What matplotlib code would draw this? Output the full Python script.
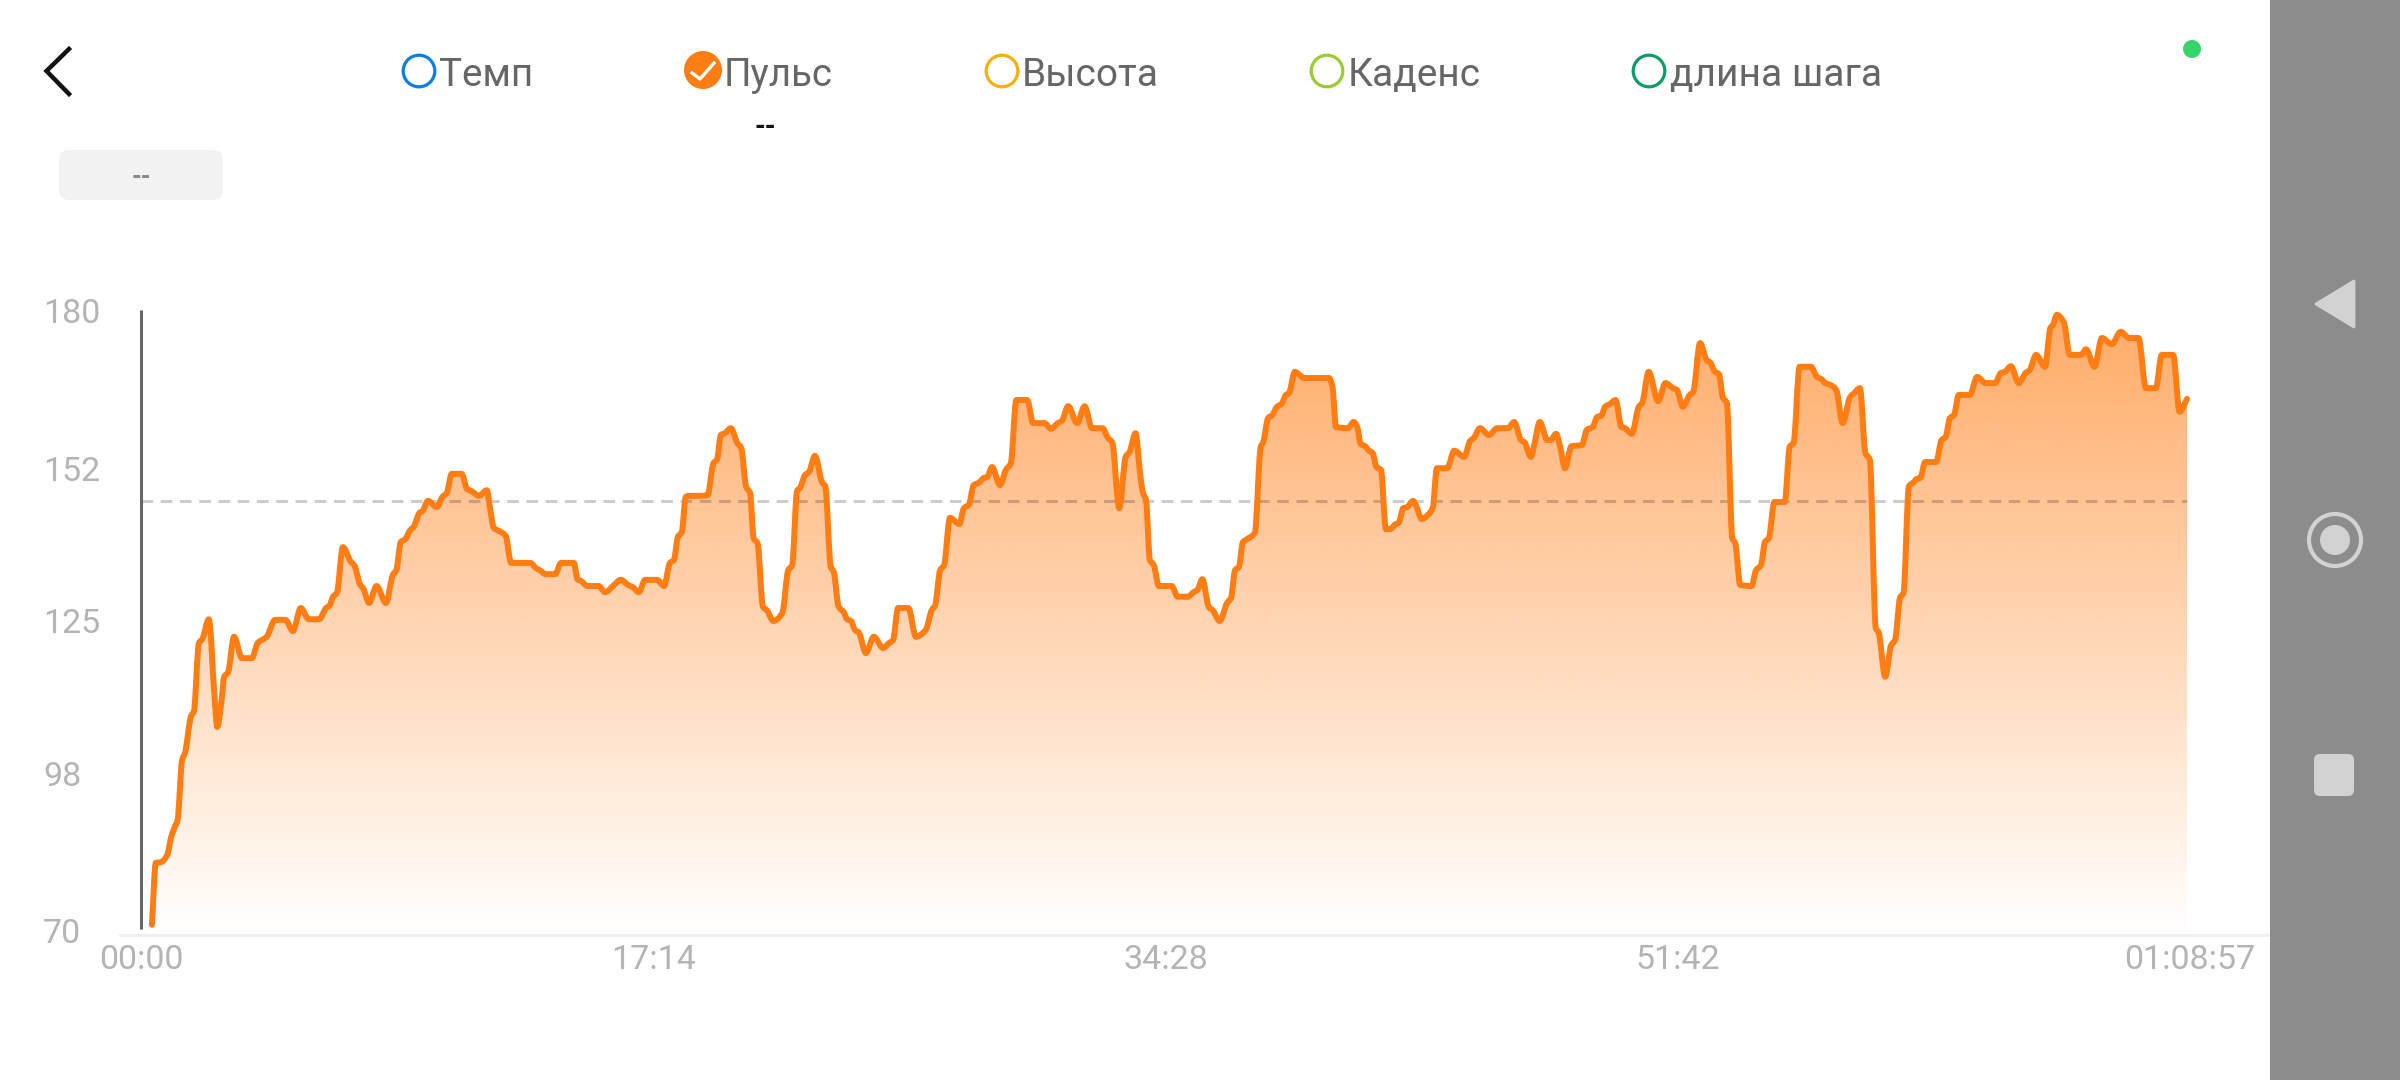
import numpy as np
import matplotlib
matplotlib.use("Agg")
import matplotlib.pyplot as plt
from matplotlib.patches import Circle, FancyBboxPatch, Polygon, Rectangle, PathPatch
from matplotlib.path import Path

plt.rcParams['font.family'] = ['Roboto', 'DejaVu Sans']

legend_labels = ["Темп", "Пульс", "Высота", "Каденс", "длина шага"]
legend_colors = ["#0A7DEB", "#FF7D13", "#F9AE0F", "#9CCB2F", "#0A9D68"]
y_ticks = [70, 98, 125, 152, 180]
x_ticks = [0, 1037, 2071, 3105, 4140]
x_tick_labels = ["00:00", "17:14", "34:28", "51:42", "01:08:57"]
mean_hr = 146.2

time_sec = [22,30,40,53,61,68,74,83,89,101,107,117,124,137,149,154,163,168,176,188,204,224,236,254,271,292,307,323,339,360,
374,381,388,396,408,424,431,443,449,461,476,495,509,516,525,534,544,551,563,569,580,598,609,618,628,648,659,667,683,699,
705,713,723,737,748,787,798,806,818,837,849,875,882,889,903,925,938,954,970,984,994,1006,1019,1043,1057,1069,1077,1085,1093,1101,
1107,1130,1145,1157,1164,1172,1180,1192,1205,1213,1223,1231,1238,1246,1257,1265,1278,1296,1308,1316,1326,1332,1342,1350,1362,1376,1383,1394,1400,1410,
1420,1427,1435,1443,1451,1465,1481,1500,1512,1520,1530,1551,1566,1586,1598,1605,1615,1623,1635,1654,1663,1673,1683,1693,1704,1710,1720,1736,1748,1758,
1769,1791,1803,1826,1839,1853,1861,1874,1892,1907,1922,1943,1954,1963,1977,1990,1998,2010,2019,2025,2031,2039,2047,2057,2083,2095,2116,2127,2135,2145,
2158,2166,2180,2195,2203,2211,2219,2227,2235,2251,2263,2268,2278,2286,2296,2305,2314,2320,2332,2342,2350,2401,2408,2415,2439,2451,2458,2465,2474,2482,
2489,2497,2506,2516,2524,2536,2542,2551,2559,2571,2578,2588,2605,2611,2619,2640,2654,2674,2686,2694,2706,2724,2741,2763,2775,2789,2796,2809,2815,2827,
2842,2849,2860,2868,2878,2891,2912,2922,2934,2943,2951,2959,2969,2980,2992,2999,3013,3027,3034,3047,3066,3081,3096,3104,3116,3130,3137,3151,3164,3171,
3181,3189,3197,3205,3216,3222,3232,3255,3264,3274,3282,3290,3301,3322,3332,3340,3352,3375,3387,3396,3404,3414,3426,3439,3454,3461,3474,3485,3494,3506,
3512,3525,3537,3545,3555,3562,3573,3581,3589,3596,3606,3628,3639,3647,3656,3664,3674,3696,3711,3728,3747,3759,3767,3779,3795,3809,3817,3830,3848,3859,
3864,3872,3886,3898,3921,3931,3948,3963,3983,4001,4018,4037,4052,4072,4084,4107,4120,4135]

heart_rate = [71.1,82.1,82.2,83.5,86.7,88.4,89.7,100.3,101.6,108.1,109,121.1,121.8,125.3,111,106.2,111,115.1,115.9,122.2,118.4,118.4,121.1,122.2,125.2,125.2,123.2,127.3,125.3,125.3,
127.3,127.7,129.3,130,138.1,135.5,134.9,131.4,130.8,128.2,131.2,128.2,133.2,134,139,139.5,141.1,141.7,144.2,144.5,146.3,145.2,147,147.7,151.1,151.1,148.4,148.1,147.2,148.2,
145.2,141.5,141,140.1,135.3,135.3,134.4,134,133.3,133.3,135.3,135.3,132.4,132.1,131.2,131.2,130.1,131.2,132.3,131.4,131,130.1,132.3,132.3,131.2,135.3,135.8,139.9,140.8,147,
147.2,147.2,147.3,153,153.6,158,158.3,159.2,156.6,155.7,148.8,147.7,139.7,138.8,127.5,126.9,125,126.4,134,134.9,148.1,148.6,150.9,151.4,154.3,149.7,148.8,134.6,133.7,127.5,
126.6,125.3,125,123.4,122.9,119.3,122.2,120.2,121.1,121.6,127.3,127.3,122.2,123.4,126.9,127.8,134,134.9,143.3,142.2,145,145.6,149.1,149.5,150.4,150.5,152.3,149.1,151.8,153,
164.2,164.2,160.1,160.1,159.1,160.1,160.5,163.1,160.1,163.1,159.2,159.2,157.5,156.6,145,154.1,155,158.3,151.3,147.7,146.5,135.8,134.9,131.2,131.2,129.3,129.3,130.1,130.5,132.4,
127.5,126.9,125,128.2,129.1,134,134.6,139,139.5,140.6,155.9,156.7,161,161.5,163,163.5,165.1,165.4,169.2,168.6,168.1,168.1,166.5,159.4,159.2,160.3,159.4,156.4,156,155.2,
154.8,152.3,151.8,141.3,141.3,142.2,142.4,145,145.2,146.3,145.2,143.1,144.2,145.2,152.1,152.1,155.2,154.1,156.9,157.5,159.2,158,159.2,159.2,160.3,157.1,156.7,154.1,155.9,160.3,
157.1,157.1,158.2,155.9,152.1,156,156.2,158.9,159.4,161.2,161.4,163,163.5,164.2,159.4,159.2,158.2,163,163.7,169.2,164,167.2,166.3,166,163,165.1,165.6,174.3,171.3,170.9,
169.2,168.8,164.6,163.7,139.7,138.8,131.4,131.2,134,134.9,139,139.7,146.1,146.1,155.9,156.6,170.1,170.1,168.3,167.9,167.2,166.9,166,160.1,164.7,165.3,166.3,154.8,153.6,123.8,
122.9,115.1,120.7,121.6,129.1,130,148.9,149.5,150.2,150.4,153.2,153.2,157.1,157.6,161,161.5,165.1,165.1,168.3,167.2,167.2,169,169.2,170.2,167.2,169,169.5,172.2,170.1,177,
177.5,179.3,178,172.2,172.2,173.2,170.1,175.2,174.1,176.3,175.2,175.2,166.3,166.3,172.2,172.2,162.1,164.4]


def smooth_path(x, y):
    """Bezier path through every data point, flat at local extrema (no overshoot)."""
    dx = np.diff(x)
    s = np.diff(y) / dx
    m = np.zeros_like(y)
    same = s[:-1] * s[1:] > 0
    m[1:-1][same] = (2 * s[:-1][same] * s[1:][same]) / (s[:-1][same] + s[1:][same])
    m[0], m[-1] = s[0], s[-1]
    verts = [(x[0], y[0])]
    codes = [Path.MOVETO]
    for i in range(len(x) - 1):
        h = dx[i] / 3
        verts += [(x[i] + h, y[i] + m[i] * h), (x[i + 1] - h, y[i + 1] - m[i + 1] * h), (x[i + 1], y[i + 1])]
        codes += [Path.CURVE4] * 3
    return verts, codes


W, H = 2400, 1080
fig = plt.figure(figsize=(24, 10.8), dpi=100, facecolor="white")

# Chart axes: X 141..2192, Y 300..935 in pixels
xmax = 4145
ax = fig.add_axes([141 / W, 1 - 935 / H, xmax * 0.4948 / W, (935 - 300) / H])
ax.set_xlim(0, xmax)
ax.set_ylim(69.29, 181.94)
ax.patch.set_alpha(0)
for s_ in ax.spines.values():
    s_.set_visible(False)

ax.set_yticks(y_ticks)
ax.set_yticklabels([str(v) for v in y_ticks])
ax.set_xticks(x_ticks)
ax.set_xticklabels(x_tick_labels)
ax.tick_params(axis='x', length=0, pad=6.5, labelsize=24.5, labelcolor="#B4B4B4")
ax.tick_params(axis='y', length=0, pad=70.5, labelsize=24.5, labelcolor="#B4B4B4")
for lab in ax.get_yticklabels():
    lab.set_ha('left')

t = np.array(time_sec, dtype=float)
hr = np.array(heart_rate, dtype=float)
curve_v, curve_c = smooth_path(t, hr)

# Gradient fill under the curve
ylo, yhi = ax.get_ylim()
g = np.linspace(1, 0, 512)
rgba = np.zeros((512, 1, 4))
rgba[..., 0] = 0xFF / 255
rgba[..., 1] = 0x7D / 255
rgba[..., 2] = 0x13 / 255
rgba[..., 3] = (g * 0.66)[:, None]
im = ax.imshow(rgba, extent=[0, xmax, ylo, yhi], aspect='auto', origin='upper',
               interpolation='bilinear', zorder=1)
fill_path = Path(curve_v + [(t[-1], ylo + 0.5), (t[0], ylo + 0.5), (t[0], hr[0])],
                 curve_c + [Path.LINETO, Path.LINETO, Path.CLOSEPOLY])
clip = PathPatch(fill_path, transform=ax.transData, facecolor='none', edgecolor='none')
ax.add_patch(clip)
im.set_clip_path(clip)
ax.set_xlim(0, xmax)
ax.set_ylim(ylo, yhi)

ax.plot([0, t[-1]], [mean_hr, mean_hr], color=(0, 0, 0, 0.2), lw=2.2,
        dashes=(3.8, 2.5), zorder=2, solid_capstyle='butt')
ax.vlines(0, 70.4, 180.2, color="#666666", lw=2.2, zorder=3, clip_on=False)
ax.add_patch(PathPatch(Path(curve_v, curve_c), facecolor='none', edgecolor="#FF7D13", lw=4.3,
                       joinstyle='round', capstyle='round', zorder=4))

# Overlay in pixel coordinates for the app's interface
ui = fig.add_axes([0, 0, 1, 1])
ui.set_xlim(0, W)
ui.set_ylim(H, 0)
ui.axis('off')
ui.patch.set_alpha(0)

ui.plot([120, 2270], [935, 935], color="#EFEFEF", lw=2, zorder=1)
ui.plot([69, 46.5, 69], [49, 71, 94], color="#111111", lw=3.2, solid_joinstyle='miter', zorder=5)

cx = [419, 703, 1002, 1327, 1649]
tx = [439, 724, 1022, 1348, 1670]
fs = [27.7, 27.7, 28, 28, 28]
for i, (lab, col) in enumerate(zip(legend_labels, legend_colors)):
    if i == 1:
        ui.add_patch(Circle((cx[i], 70), 19, facecolor=col, edgecolor='none', zorder=5))
        ui.plot([692, 700, 714], [73, 79, 63], color="white", lw=2.4, zorder=6)
    else:
        ui.add_patch(Circle((cx[i], 71), 15.8, facecolor='none', edgecolor=col, lw=2.3, zorder=5))
    ui.text(tx[i], 86, lab, color="#666666", fontsize=fs[i], ha='left', va='baseline', zorder=5)

ui.text(765, 127, "--", color="#111111", fontsize=20, ha='center', va='center', fontweight='bold')
ui.add_patch(FancyBboxPatch((69, 160), 144, 30, boxstyle="round,pad=10,rounding_size=10",
                            facecolor="#F2F2F2", edgecolor='none', zorder=2))
ui.text(141, 177, "--", color="#888888", fontsize=18, ha='center', va='center', zorder=3, fontweight='bold')

ui.add_patch(Circle((2192, 49), 9, facecolor="#35D56B", edgecolor='none'))

ui.add_patch(Rectangle((2270, 0), 130, H, facecolor="#8C8C8C", edgecolor='none', zorder=3))
ui.add_patch(Polygon([[2316, 304], [2354, 281], [2354, 327]], closed=True, facecolor="#D2D2D2",
                     edgecolor="#D2D2D2", lw=2, joinstyle='round', zorder=4))
ui.add_patch(Circle((2335, 540), 26, facecolor='none', edgecolor="#D2D2D2", lw=3, zorder=4))
ui.add_patch(Circle((2335, 540), 15, facecolor="#D2D2D2", edgecolor='none', zorder=4))
ui.add_patch(FancyBboxPatch((2320, 760), 28, 30, boxstyle="round,pad=6,rounding_size=6",
                            facecolor="#D2D2D2", edgecolor='none', zorder=4))

fig.savefig("out.png", dpi=100, facecolor="white")
